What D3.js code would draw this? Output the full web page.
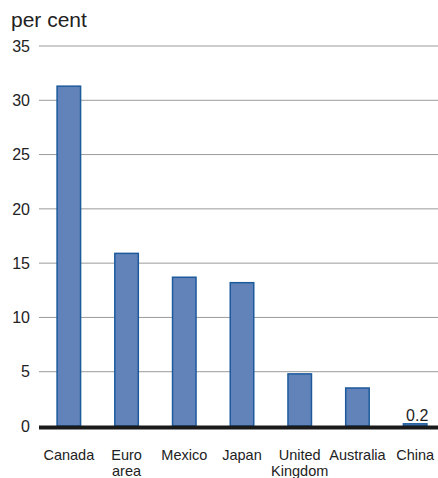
<!DOCTYPE html>
<html><head><meta charset="utf-8">
<script src="https://cdn.jsdelivr.net/npm/d3@7"></script>
<style>body{margin:0;background:#fff;}svg{display:block;font-family:"Liberation Sans",Arial,sans-serif;}</style>
</head><body><svg id="c" width="438" height="478"></svg>
<script>
const categories = ["Canada", "Euro area", "Mexico", "Japan", "United Kingdom", "Australia", "China"];
const categoryLines = [["Canada"], ["Euro", "area"], ["Mexico"], ["Japan"], ["United", "Kingdom"], ["Australia"], ["China"]];
const values = [31.3, 15.9, 13.7, 13.2, 4.8, 3.5, 0.2];
const yTicks = [0, 5, 10, 15, 20, 25, 30, 35];
const labelledValue = "0.2";

const svg = d3.select("#c");
const x = d3.scaleBand().domain(categories).range([40, 444]).paddingInner(0.567).paddingOuter(0.283);
const y = d3.scaleLinear().domain([0, 35]).range([426, 46]);

// gridlines
svg.append("g").selectAll("line").data(yTicks.filter(d => d > 0)).join("line")
  .attr("x1", 39).attr("x2", 438).attr("y1", d => y(d)).attr("y2", d => y(d))
  .attr("stroke", "#9a9a9a").attr("stroke-width", 1);

// y tick labels
svg.append("g").selectAll("text").data(yTicks).join("text")
  .attr("x", 30).attr("y", d => y(d)).attr("dy", "0.36em")
  .attr("text-anchor", "end").attr("font-size", 16).attr("fill", "#222")
  .text(d => d);

svg.append("text").attr("x", 11).attr("y", 27).attr("font-size", 21).attr("fill", "#222").text("per cent");

// bars
svg.append("g").selectAll("rect").data(values).join("rect")
  .attr("x", (d, i) => x(categories[i]) + 0.75)
  .attr("width", x.bandwidth() - 1.5)
  .attr("y", d => y(d))
  .attr("height", d => y(0) - y(d))
  .attr("fill", "#6283b9").attr("stroke", "#1c5a9c").attr("stroke-width", 1.5);

// zero line
svg.append("line").attr("x1", 39).attr("x2", 438).attr("y1", y(0) + 1.5).attr("y2", y(0) + 1.5)
  .attr("stroke", "#1a1a1a").attr("stroke-width", 4);

// value label for China
svg.append("text").attr("x", x("China") + x.bandwidth() / 2 + 2).attr("y", y(0) - 5)
  .attr("text-anchor", "middle").attr("font-size", 16).attr("fill", "#222").text(labelledValue);

// x labels
const xl = svg.append("g").selectAll("text").data(categories).join("text")
  .attr("x", d => x(d) + x.bandwidth() / 2).attr("y", 460)
  .attr("text-anchor", "middle").attr("font-size", 14.5).attr("fill", "#222");
xl.each(function(d, i) {
  const t = d3.select(this);
  categoryLines[i].forEach((l, j) => {
    t.append("tspan").attr("x", x(d) + x.bandwidth() / 2).attr("dy", j === 0 ? 0 : 16).text(l);
  });
});
</script></body></html>
